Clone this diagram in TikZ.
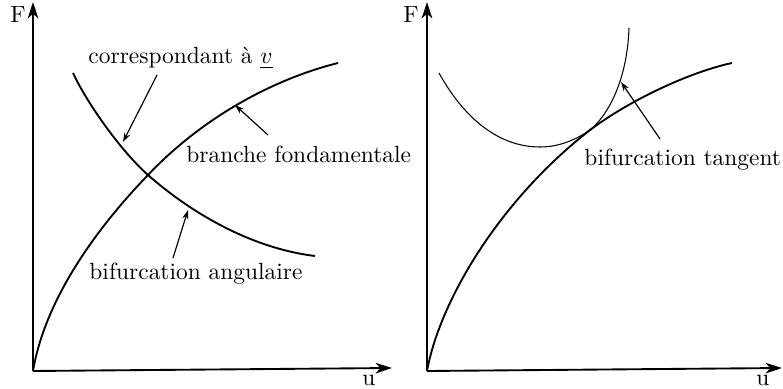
\documentclass[tikz,border=0pt]{standalone}
\usetikzlibrary{arrows.meta, positioning}
\begin{document}
\begin{tikzpicture}[x=0.427pt, y=-0.427pt, >=Stealth, axis/.style={->, line width=0.8pt, >={Stealth[length=7pt, width=4.5pt, inset=2pt]}}, branch/.style={line width=0.8pt}, thinbranch/.style={line width=0.45pt}, note/.style={anchor=base west, inner sep=0pt}, pointer/.style={->, line width=0.5pt, >={Stealth[length=4pt, width=2.6pt]}}]
\useasboundingbox (0,0) rectangle (783,389);
% left: angular bifurcation
\coordinate (O1) at (33,371);
\coordinate (Y1) at (33,2);
\coordinate (X1) at (392,368);
\coordinate (C1) at (148,175);
\draw[axis] (O1) -- (Y1);
\draw[axis] (O1) -- (X1);
\node[note] (F1) at (10,23) {F};
\node[note] (U1) at (362,385) {u};
\draw[branch] (O1) .. controls (45,300) and (95,230) .. (C1) .. controls (200,120) and (270,80) .. (338,63);
\draw[branch] (73,73) .. controls (88,105) and (122,152) .. (C1) .. controls (190,212) and (250,248) .. (315,256);
\fill (C1) circle (1.3);
\coordinate (A1) at (123,142);
\coordinate (A2) at (235,105);
\coordinate (A3) at (188,210);
\node[note] (L1) at (88,64) {correspondant à \underline{$v$}};
\node[note] (L2) at (186,163) {branche fondamentale};
\node[note] (L3) at (89,280) {bifurcation angulaire};
\draw[pointer] (157,75) -- (A1);
\draw[pointer] (268,135) -- (A2);
\draw[pointer] (173,258) -- (A3);
% right: tangent bifurcation
\coordinate (O2) at (427,371);
\coordinate (Y2) at (427,2);
\coordinate (X2) at (782,368);
\coordinate (C2) at (590,130);
\draw[axis] (O2) -- (Y2);
\draw[axis] (O2) -- (X2);
\node[note] (F2) at (403,23) {F};
\node[note] (U2) at (756,385) {u};
\draw[branch] (O2) .. controls (440,300) and (500,200) .. (C2) .. controls (630,100) and (690,72) .. (732,63);
\draw[thinbranch] (439,73) .. controls (465,120) and (500,147) .. (540,147) .. controls (560,147) and (577,139) .. (C2) .. controls (605,118) and (627,85) .. (629,28);
\fill (C2) circle (1.3);
\coordinate (B1) at (621,82);
\node[note] (L4) at (584,166) {bifurcation tangent};
\draw[pointer] (660,139) -- (B1);
\end{tikzpicture}
\end{document}
